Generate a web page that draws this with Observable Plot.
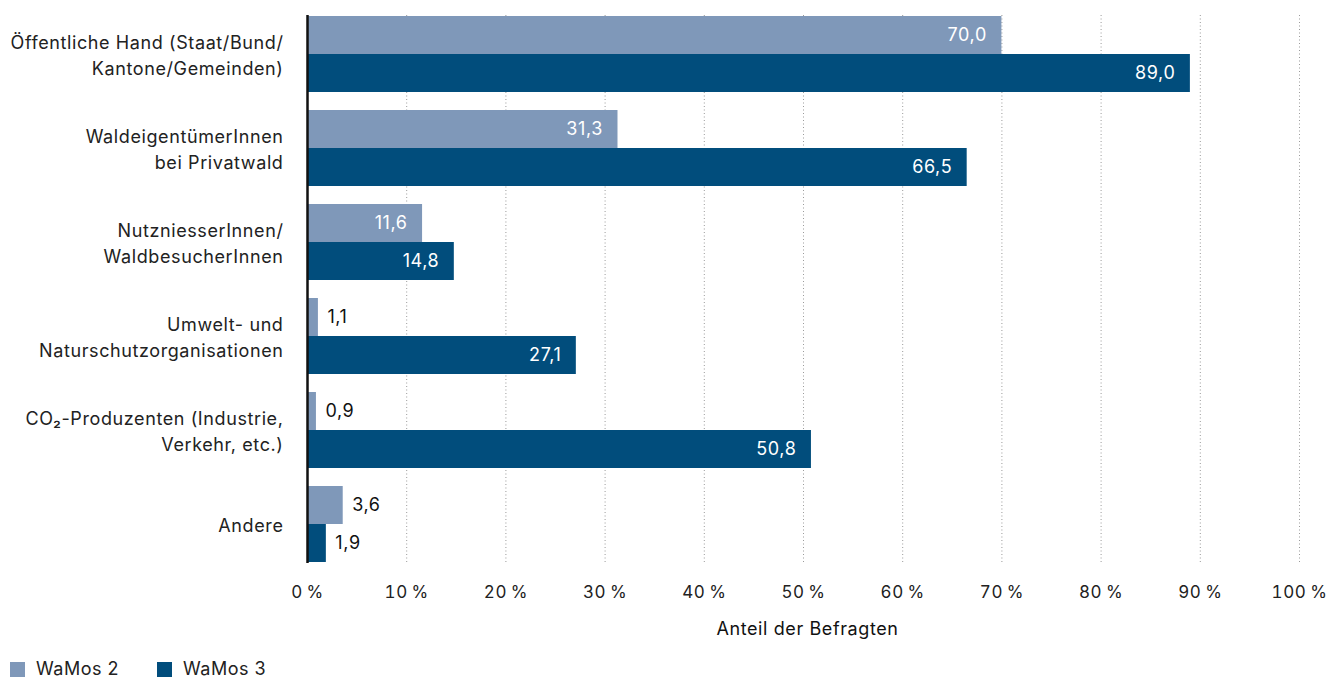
<!DOCTYPE html>
<html><head><meta charset="utf-8">
<script src="https://cdn.jsdelivr.net/npm/d3@7"></script>
<script src="https://cdn.jsdelivr.net/npm/@observablehq/plot@0.6"></script>
<style>
body{margin:0;background:#fff;font-family:Inter,"Noto Sans",sans-serif;color:#222}
#wrap{position:relative;width:1328px;height:678px}
#chart svg text{letter-spacing:0.6px}
#legend{position:absolute;left:10px;top:660px;display:flex;gap:0;font-size:18px;line-height:18px;letter-spacing:0.5px}
#legend .item{display:flex;align-items:center;margin-right:38px}
#legend .sw{width:15px;height:15px;margin-right:11px}
</style></head><body>
<div id="wrap"><div id="chart"></div><div id="legend"></div></div>
<script>
const categories = [
  "Öffentliche Hand (Staat/Bund/\nKantone/Gemeinden)",
  "WaldeigentümerInnen\nbei Privatwald",
  "NutzniesserInnen/\nWaldbesucherInnen",
  "Umwelt- und\nNaturschutzorganisationen",
  "CO₂-Produzenten (Industrie,\nVerkehr, etc.)",
  "Andere"
];
const seriesNames = ["WaMos 2", "WaMos 3"];
const seriesColors = ["#7f98b9", "#014d7c"];
const wamos2 = [70.0, 31.3, 11.6, 1.1, 0.9, 3.6];
const wamos3 = [89.0, 66.5, 14.8, 27.1, 50.8, 1.9];
const xTicks = [0, 10, 20, 30, 40, 50, 60, 70, 80, 90, 100];
const axisLabel = "Anteil der Befragten";

const d2 = categories.map((c, i) => ({cat: c, value: wamos2[i]}));
const d3s = categories.map((c, i) => ({cat: c, value: wamos3[i]}));
const fmt = v => v.toFixed(1).replace(".", ",");
const inside = d => d.value >= 8;
const half = 19;

const plot = Plot.plot({
  width: 1328,
  height: 650,
  marginTop: 15,
  marginLeft: 307,
  marginRight: 29,
  marginBottom: 87,
  style: {fontFamily: "Inter, 'Noto Sans', sans-serif", fontSize: "17px", color: "#222", background: "#fff"},
  x: {domain: [0, 100]},
  y: {domain: categories, paddingInner: 0.195, paddingOuter: 0, axis: null},
  marks: [
    Plot.gridX(xTicks.filter(t => t > 0), {stroke: "#9a9a9a", strokeOpacity: 1, strokeDasharray: "1,2.5", strokeWidth: 1}),
    Plot.barX(d2, {x: "value", y: "cat", fill: seriesColors[0], insetBottom: 38}),
    Plot.barX(d3s, {x: "value", y: "cat", fill: seriesColors[1], insetTop: 38}),
    Plot.text(d2.filter(inside), {x: "value", y: "cat", text: d => fmt(d.value), dy: -half, dx: -15, textAnchor: "end", fill: "#fff", fontSize: 18}),
    Plot.text(d2.filter(d => !inside(d)), {x: "value", y: "cat", text: d => fmt(d.value), dy: -half, dx: 9, textAnchor: "start", fill: "#111", fontSize: 18}),
    Plot.text(d3s.filter(inside), {x: "value", y: "cat", text: d => fmt(d.value), dy: half, dx: -15, textAnchor: "end", fill: "#fff", fontSize: 18}),
    Plot.text(d3s.filter(d => !inside(d)), {x: "value", y: "cat", text: d => fmt(d.value), dy: half, dx: 9, textAnchor: "start", fill: "#111", fontSize: 18}),
    Plot.text(categories, {y: d => d, text: d => d, frameAnchor: "left", textAnchor: "end", dx: -24, dy: -1, lineHeight: 1.45, fill: "#222", fontSize: 18}),
    Plot.ruleX([0], {stroke: "#111", strokeWidth: 2.5}),
    Plot.axisX(xTicks, {tickSize: 0, tickPadding: 22, tickFormat: d => d + "\u2009%", fontSize: 17, fill: "#222", label: null}),
    Plot.text([axisLabel], {frameAnchor: "bottom", dy: 71, dx: 4, text: d => d, fill: "#111", fontSize: 18})
  ]
});
document.getElementById("chart").appendChild(plot);

const leg = document.getElementById("legend");
seriesNames.forEach((s, i) => {
  const it = document.createElement("div");
  it.className = "item";
  it.innerHTML = `<span class="sw" style="background:${seriesColors[i]}"></span><span>${s}</span>`;
  leg.appendChild(it);
});
</script>
</body></html>
